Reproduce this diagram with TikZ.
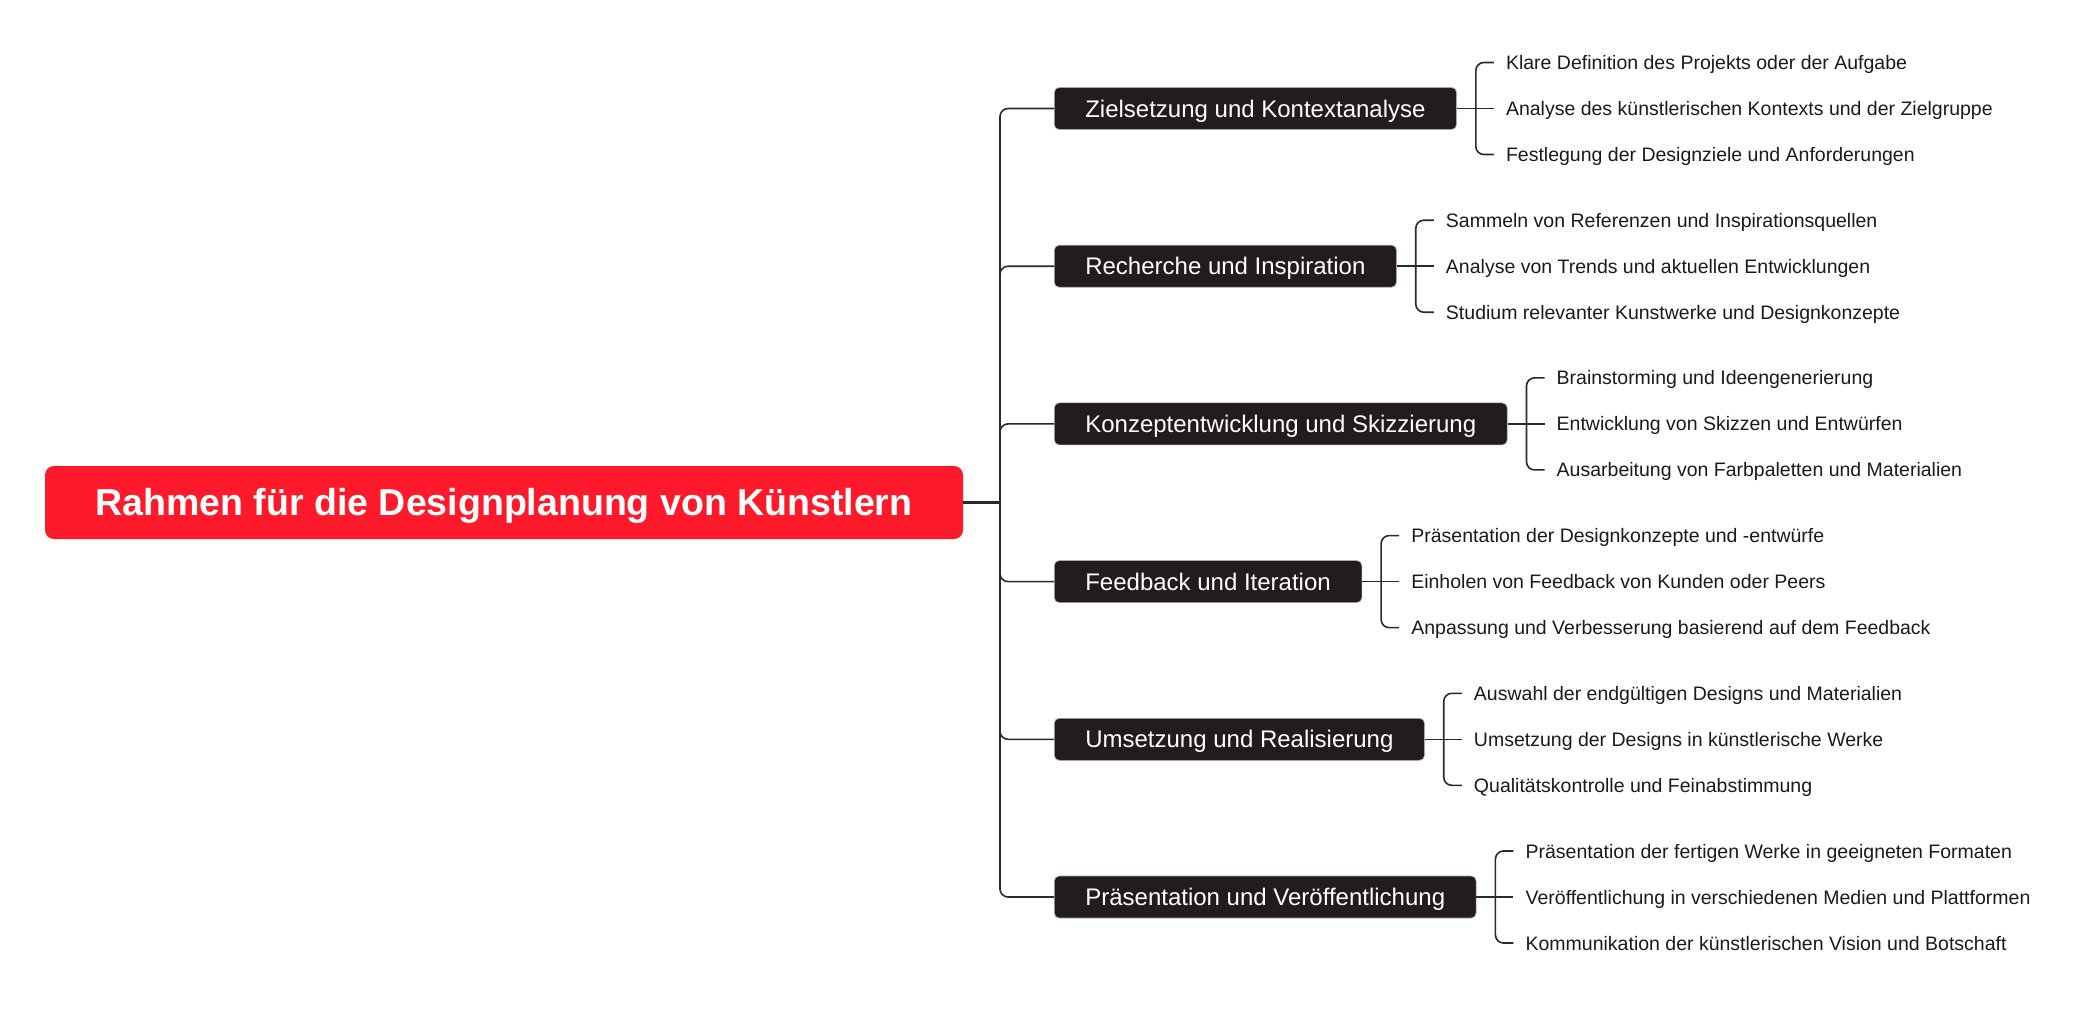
\documentclass[tikz,border=0pt]{standalone}
\usepackage{fontspec}
\setmainfont{Liberation Sans}
\usetikzlibrary{positioning}

\definecolor{rootred}{HTML}{FE1A2A}
\definecolor{topicbg}{HTML}{221C1C}
\definecolor{linegray}{HTML}{2A2A2A}
\definecolor{leaftext}{HTML}{1A1A1A}

\begin{document}
\begin{tikzpicture}[
    x=1pt, y=-1pt,
    link/.style={draw=linegray, line width=1.6pt, rounded corners=8pt},
    rootlink/.style={draw=linegray, line width=3pt},
    rootbox/.style={fill=rootred, text=white, rounded corners=9pt,
      font=\bfseries\fontsize{37.5}{44}\selectfont,
      text height=26.8pt, text depth=0pt,
      minimum width=918pt, minimum height=73pt, inner sep=0pt},
    topic/.style={fill=topicbg, draw=gray!70, line width=0.6pt, text=white,
      rounded corners=5pt, anchor=west, inner xsep=31pt, inner ysep=0pt,
      text height=17.2pt, text depth=0pt,
      minimum height=42pt, font=\fontsize{24}{28}\selectfont},
    leaf/.style={text=leaftext, inner xsep=12pt, inner ysep=0pt,
      text height=14pt, text depth=0pt,
      font=\fontsize{19.5}{23}\selectfont},
  ]
  \useasboundingbox (0,0) rectangle (2092,1020);

  % ---- root ----
  \node[rootbox] (root) at (504,502.5) {Rahmen für die Designplanung von Künstlern};
  \coordinate (trunk) at (1000,502.5);

  % ---- Zielsetzung und Kontextanalyse ----
  \node[topic] (ziel) at (1054,108.5) {Zielsetzung und Kontextanalyse};
  \node[leaf, right=37pt of ziel] (ziel2) {Analyse des künstlerischen Kontexts und der Zielgruppe};
  \node[leaf, above=46pt of ziel2.west, anchor=west] (ziel1) {Klare Definition des Projekts oder der Aufgabe};
  \node[leaf, below=46pt of ziel2.west, anchor=west] (ziel3) {Festlegung der Designziele und Anforderungen};

  % ---- Recherche und Inspiration ----
  \node[topic] (rech) at (1054,266.2) {Recherche und Inspiration};
  \node[leaf, right=37pt of rech] (rech2) {Analyse von Trends und aktuellen Entwicklungen};
  \node[leaf, above=46pt of rech2.west, anchor=west] (rech1) {Sammeln von Referenzen und Inspirationsquellen};
  \node[leaf, below=46pt of rech2.west, anchor=west] (rech3) {Studium relevanter Kunstwerke und Designkonzepte};

  % ---- Konzeptentwicklung und Skizzierung ----
  \node[topic] (konz) at (1054,423.9) {Konzeptentwicklung und Skizzierung};
  \node[leaf, right=37pt of konz] (konz2) {Entwicklung von Skizzen und Entwürfen};
  \node[leaf, above=46pt of konz2.west, anchor=west] (konz1) {Brainstorming und Ideengenerierung};
  \node[leaf, below=46pt of konz2.west, anchor=west] (konz3) {Ausarbeitung von Farbpaletten und Materialien};

  % ---- Feedback und Iteration ----
  \node[topic] (feed) at (1054,581.6) {Feedback und Iteration};
  \node[leaf, right=37pt of feed] (feed2) {Einholen von Feedback von Kunden oder Peers};
  \node[leaf, above=46pt of feed2.west, anchor=west] (feed1) {Präsentation der Designkonzepte und -entwürfe};
  \node[leaf, below=46pt of feed2.west, anchor=west] (feed3) {Anpassung und Verbesserung basierend auf dem Feedback};

  % ---- Umsetzung und Realisierung ----
  \node[topic] (umse) at (1054,739.3) {Umsetzung und Realisierung};
  \node[leaf, right=37pt of umse] (umse2) {Umsetzung der Designs in künstlerische Werke};
  \node[leaf, above=46pt of umse2.west, anchor=west] (umse1) {Auswahl der endgültigen Designs und Materialien};
  \node[leaf, below=46pt of umse2.west, anchor=west] (umse3) {Qualitätskontrolle und Feinabstimmung};

  % ---- Präsentation und Veröffentlichung ----
  \node[topic] (prae) at (1054,897) {Präsentation und Veröffentlichung};
  \node[leaf, right=37pt of prae] (prae2) {Veröffentlichung in verschiedenen Medien und Plattformen};
  \node[leaf, above=46pt of prae2.west, anchor=west] (prae1) {Präsentation der fertigen Werke in geeigneten Formaten};
  \node[leaf, below=46pt of prae2.west, anchor=west] (prae3) {Kommunikation der künstlerischen Vision und Botschaft};

  % root -> topics
  \draw[rootlink] (root.east) -- (trunk);
  \foreach \t in {ziel,rech,konz,feed,umse,prae}
    \draw[link] (trunk) |- (\t.west);

  % topics -> leaves (bracket)
  \foreach \t in {ziel,rech,konz,feed,umse,prae} {
    \draw[link] (\t.east) -- ++(19,0) coordinate (\t j) -- (\t 2.west);
    \draw[link] (\t j) |- (\t 1.west);
    \draw[link] (\t j) |- (\t 3.west);
  }

\end{tikzpicture}
\end{document}
